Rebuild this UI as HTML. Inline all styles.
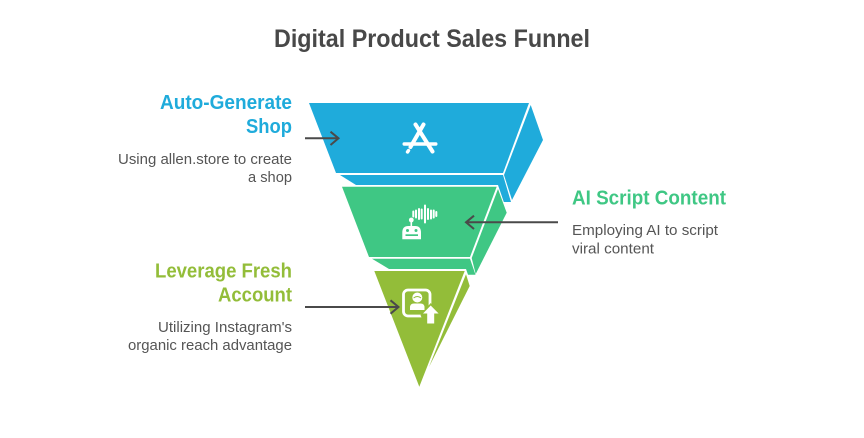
<!DOCTYPE html>
<html>
<head>
<meta charset="utf-8">
<style>
html,body{margin:0;padding:0;background:#fff;width:864px;height:438px;overflow:hidden}
svg{display:block}
text{font-family:"Liberation Sans",sans-serif}
.h{font-size:20px;font-weight:700}
.b{font-size:15px;fill:#555}
</style>
</head>
<body>
<svg width="864" height="438" viewBox="0 0 864 438" xmlns="http://www.w3.org/2000/svg">
<rect width="864" height="438" fill="#fff"/>
<text x="274" y="47" font-size="25" font-weight="700" fill="#484848" textLength="316" lengthAdjust="spacingAndGlyphs">Digital Product Sales Funnel</text>

<!-- blue -->
<polygon points="340,175 503,175 511,202 498,202 356,185" fill="#1fabdb"/>
<polygon points="530.7,105 543,140 512,200 504,175" fill="#1fabdb"/>
<polygon points="309,103 529,103 503,173 336,173" fill="#1fabdb"/>

<!-- green -->
<polygon points="356,185 498,185 510,220 480,280 360,280" fill="#fff"/>
<polygon points="372,258.7 470,258.7 475.5,274.7 466,274.7 389,269" fill="#3fc784"/>
<polygon points="498,189 506.7,212.7 475.7,274 471.7,258" fill="#3fc784"/>
<polygon points="342,186.7 496.7,186.7 470,257 369,257" fill="#3fc784"/>

<!-- olive -->
<polygon points="388,269 466,269 472,286 430,372 400,372" fill="#fff"/>
<polygon points="466,274.3 469.7,286 429,367" fill="#93bd39"/>
<polygon points="374.3,271 464.7,271 419.3,386.7" fill="#93bd39"/>

<!-- app icon -->
<g fill="none" stroke="#fff" stroke-linecap="round">
  <path d="M423.5,124.5 L410.5,147" stroke-width="4"/>
  <path d="M415.5,124.5 L432.5,151.5" stroke-width="4"/>
  <path d="M407.5,152 L408.5,150.5" stroke-width="3.4"/>
</g>
<rect x="402.5" y="142.3" width="35" height="3.4" rx="1.7" fill="#fff"/>

<!-- robot icon -->
<g stroke="#fff" stroke-width="2" stroke-linecap="round">
  <path d="M413.3,211.5 v5 M416,210.5 v7 M419,209 v10 M421.7,209.5 v9 M425,205.5 v17 M428,209 v10 M431,210.5 v8 M433.7,210.5 v7 M436.3,212 v4"/>
</g>
<circle cx="411.3" cy="220" r="2.4" fill="#fff"/>
<rect x="410.5" y="220" width="1.6" height="6" fill="#fff"/>
<path d="M402.3,239.3 V232.5 Q402.3,226 408.5,226 H415 Q421,226 421,232.5 V239.3 Z" fill="#fff"/>
<circle cx="407.5" cy="230.5" r="1.5" fill="#3fc784"/>
<circle cx="416" cy="230.5" r="1.5" fill="#3fc784"/>
<rect x="405.5" y="234.3" width="12.5" height="1.7" fill="#3fc784"/>

<!-- account icon -->
<rect x="403.5" y="290" width="26.5" height="26" rx="4.5" fill="none" stroke="#fff" stroke-width="2.8"/>
<circle cx="417.3" cy="297.5" r="5" fill="#fff"/>
<path d="M413.6,298 Q417.3,295 421,298" fill="none" stroke="#93bd39" stroke-width="1"/>
<path d="M410,310 V307.5 Q410,303.5 414,303.5 H420.5 Q424.5,303.5 424.5,307.5 V310Z" fill="#fff"/>
<polygon points="430.7,303 441,315 436,326 425,326 420.5,315" fill="#93bd39"/>
<polygon points="430.7,305.5 438.6,313.5 434.2,313.5 434.2,323.5 427.2,323.5 427.2,313.5 423,313.5" fill="#fff"/>

<!-- arrows -->
<g fill="none" stroke="#4a4a4a" stroke-width="2">
  <path d="M305,138.3 H338"/>
  <path d="M330.5,131.7 L338.5,138.3 L330.5,145"/>
  <path d="M558,222.3 H467"/>
  <path d="M474,215.7 L466,222.3 L474,229"/>
  <path d="M305,307 H398"/>
  <path d="M390.5,300.3 L398.5,307 L390.5,313.7"/>
</g>

<!-- labels -->
<g text-anchor="end">
  <text class="h" x="292" y="109" fill="#1fabdb" textLength="132" lengthAdjust="spacingAndGlyphs">Auto-Generate</text>
  <text class="h" x="292" y="133" fill="#1fabdb" textLength="46" lengthAdjust="spacingAndGlyphs">Shop</text>
  <text class="b" x="292" y="164" textLength="174" lengthAdjust="spacingAndGlyphs">Using allen.store to create</text>
  <text class="b" x="292" y="182" textLength="44" lengthAdjust="spacingAndGlyphs">a shop</text>
  <text class="h" x="292" y="277.5" fill="#93bd39" textLength="137" lengthAdjust="spacingAndGlyphs">Leverage Fresh</text>
  <text class="h" x="292" y="301.5" fill="#93bd39" textLength="74" lengthAdjust="spacingAndGlyphs">Account</text>
  <text class="b" x="292" y="332" textLength="134" lengthAdjust="spacingAndGlyphs">Utilizing Instagram's</text>
  <text class="b" x="292" y="350" textLength="164" lengthAdjust="spacingAndGlyphs">organic reach advantage</text>
</g>
<text class="h" x="572" y="204.5" fill="#3fc784" textLength="154" lengthAdjust="spacingAndGlyphs">AI Script Content</text>
<text class="b" x="572" y="235" textLength="146" lengthAdjust="spacingAndGlyphs">Employing AI to script</text>
<text class="b" x="572" y="253.5" textLength="82" lengthAdjust="spacingAndGlyphs">viral content</text>
</svg>
</body>
</html>
